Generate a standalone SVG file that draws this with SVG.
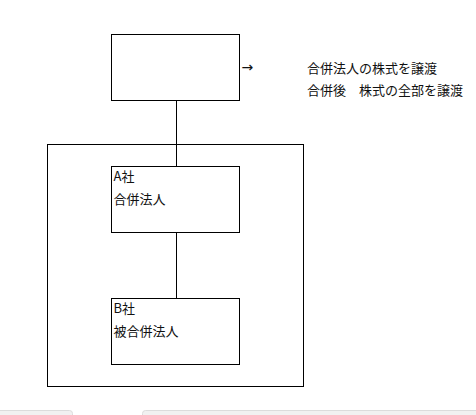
<svg xmlns="http://www.w3.org/2000/svg" width="476" height="415" viewBox="0 0 476 415">
<style>
.box{fill:#fff;stroke:#000;stroke-width:1}
.frame{fill:none;stroke:#000;stroke-width:1}
.t{font-family:"Noto Sans CJK JP","Noto Sans CJK SC",sans-serif;font-size:13px;fill:#111}
.c{stroke:#000;stroke-width:1;fill:none}
.tab{fill:#f1f1f1;stroke:#dcdcdc;stroke-width:1}
</style>
<rect width="476" height="415" fill="#fff"/>
<g id="group-frame"><rect class="frame" x="47.5" y="144.5" width="256" height="242"/></g>
<g id="connectors">
<line class="c" x1="176.5" y1="100.5" x2="176.5" y2="166.5"/>
<line class="c" x1="176.5" y1="232.5" x2="176.5" y2="298.5"/>
</g>
<g id="node-top"><rect class="box" x="111.5" y="34.5" width="128" height="66"/></g>
<g id="node-arrow"><text class="t" x="241.5" y="72" style="font-size:14px;font-family:'DejaVu Sans',sans-serif">→</text></g>
<g id="node-note">
<text class="t" x="307" y="73">合併法人の株式を譲渡</text>
<text class="t" x="307" y="95">合併後　株式の全部を譲渡</text>
</g>
<g id="node-a">
<rect class="box" x="111.5" y="166.5" width="128" height="66"/>
<text class="t" x="113.5" y="181">A社</text>
<text class="t" x="113.5" y="204">合併法人</text>
</g>
<g id="node-b">
<rect class="box" x="111.5" y="298.5" width="128" height="66"/>
<text class="t" x="113.5" y="313">B社</text>
<text class="t" x="113.5" y="336">被合併法人</text>
</g>
<g id="tabs">
<rect class="tab" x="-5.5" y="410.5" width="78" height="12" rx="3"/>
<rect class="tab" x="142.5" y="410.5" width="340" height="12" rx="3"/>
</g>
</svg>
